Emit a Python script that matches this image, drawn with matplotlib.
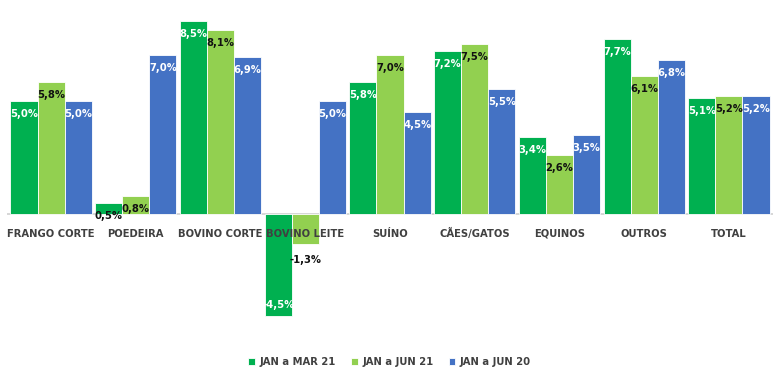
import numpy as np
import matplotlib
matplotlib.use("Agg")
from matplotlib import pyplot as plt

plt.rcParams['font.family'] = ['DejaVu Sans']
plt.rcParams['font.stretch'] = 'condensed'

categories = ["FRANGO CORTE", "POEDEIRA", "BOVINO CORTE", "BOVINO LEITE", "SUÍNO",
              "CÃES/GATOS", "EQUINOS", "OUTROS", "TOTAL"]
series_names = ["JAN a MAR 21", "JAN a JUN 21", "JAN a JUN 20"]
jan_mar_21 = [5.0, 0.5, 8.5, -4.5, 5.8, 7.2, 3.4, 7.7, 5.1]
jan_jun_21 = [5.8, 0.8, 8.1, -1.3, 7.0, 7.5, 2.6, 6.1, 5.2]
jan_jun_20 = [5.0, 7.0, 6.9, 5.0, 4.5, 5.5, 3.5, 6.8, 5.2]

colors = ["#00B050", "#92D050", "#4472C4"]
label_colors = ["white", "#111111", "white"]

fig = plt.figure(figsize=(7.79, 3.85), dpi=100)
ax = fig.add_axes([7 / 779, 1 - 321 / 385, 766 / 779, 306 / 385])

x = np.arange(len(categories))
w = 0.32
ax.axhline(0, color="#d0d0d0", lw=1.2, zorder=1)

for i, (vals, name) in enumerate(zip([jan_mar_21, jan_jun_21, jan_jun_20], series_names)):
    xs = x + (i - 1) * w
    ax.bar(xs, vals, w, color=colors[i], edgecolor="white", linewidth=0.6,
           label=name, zorder=2)
    for xi, v in zip(xs, vals):
        txt = f"{v:.1f}%".replace(".", ",")
        c = label_colors[i]
        if v >= 0:
            if v < 1:
                c = "#111111"
            ax.text(xi, v - 0.35, txt, ha="center", va="top", color=c,
                    fontsize=8, fontweight="bold", zorder=3)
        elif v < -2:
            ax.text(xi, v + 0.3, txt, ha="center", va="bottom", color=c,
                    fontsize=8, fontweight="bold", zorder=3)
        else:
            ax.text(xi, v - 0.5, txt, ha="center", va="top", color="#111111",
                    fontsize=8, fontweight="bold", zorder=3)

for xi, cat in zip(x, categories):
    ax.text(xi, -0.85, cat, ha="center", va="center", color="#404040",
            fontsize=8, fontweight="bold", zorder=4)

ax.set_xlim(-0.52, 8.52)
ax.set_ylim(-4.7, 8.77)
ax.axis("off")

leg = fig.legend(loc="center", bbox_to_anchor=(0.5, 1 - 362 / 385), ncol=3,
                 frameon=False, handlelength=0.6, handleheight=0.6,
                 handletextpad=0.4, columnspacing=1.4,
                 prop={"size": 8, "weight": "bold", "stretch": "condensed"})
for t in leg.get_texts():
    t.set_color("#404040")

fig.savefig("out.png", dpi=100, facecolor="white")
